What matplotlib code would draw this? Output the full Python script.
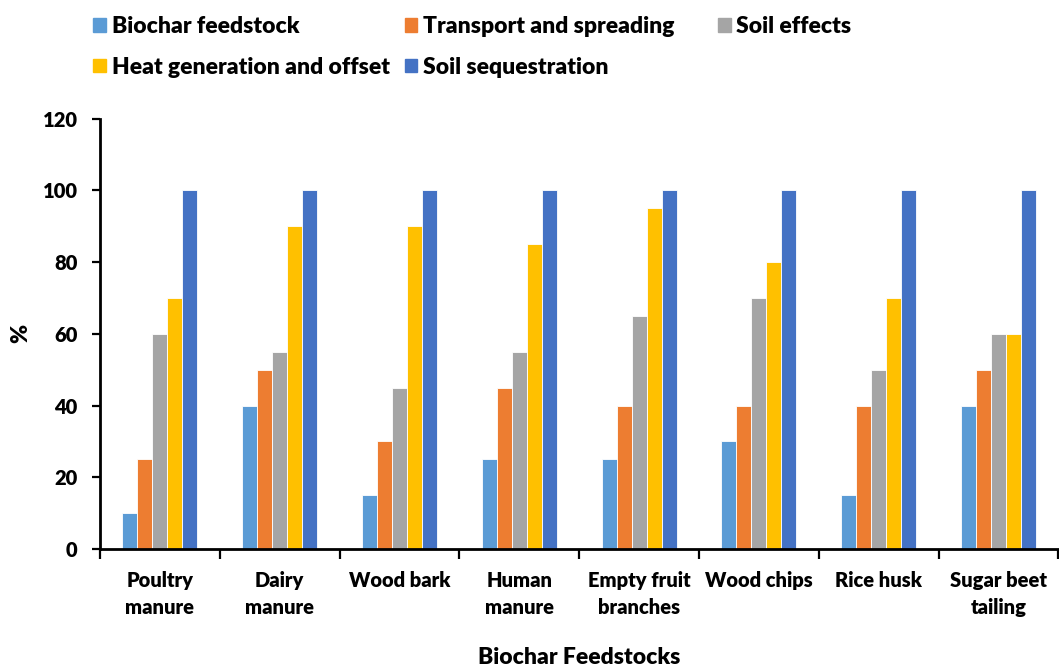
import matplotlib

matplotlib.use("Agg")

import matplotlib.pyplot as plt
import numpy as np
from matplotlib.patches import Patch

plt.rcParams["font.family"] = ["Lato", "DejaVu Sans"]
plt.rcParams["font.weight"] = "heavy"

categories = ["Poultry\nmanure", "Dairy\nmanure", "Wood bark", "Human\nmanure",
              "Empty fruit\nbranches", "Wood chips", "Rice husk", "Sugar beet\ntailing"]
series = ["Biochar feedstock", "Transport and spreading", "Soil effects",
          "Heat generation and offset", "Soil sequestration"]
biochar_feedstock = [10, 40, 15, 25, 25, 30, 15, 40]
transport_spreading = [25, 50, 30, 45, 40, 40, 40, 50]
soil_effects = [60, 55, 45, 55, 65, 70, 50, 60]
heat_generation = [70, 90, 90, 85, 95, 80, 70, 60]
soil_sequestration = [100, 100, 100, 100, 100, 100, 100, 100]
values = [biochar_feedstock, transport_spreading, soil_effects, heat_generation, soil_sequestration]
colors = ["#5B9BD5", "#ED7D31", "#A5A5A5", "#FFC000", "#4472C4"]

fig = plt.figure(figsize=(10.59, 6.67), dpi=100)
ax = fig.add_axes([0.0944, 0.177, 0.905, 0.645])

x = np.arange(len(categories))
w = 0.125
for i, (vals, c) in enumerate(zip(values, colors)):
    ax.bar(x + (i - 2) * w, vals, width=w, color=c, edgecolor="white", linewidth=0.6)

ax.set_xlim(-0.5, len(categories) - 0.5)
ax.set_ylim(0, 120)
ax.set_yticks(range(0, 121, 20))
ax.set_xticks(x)
ax.set_xticklabels(categories, fontsize=14.5, fontweight="heavy", linespacing=1.5)
ax.set_xticks(np.arange(-0.5, len(categories)), minor=True)
ax.tick_params(axis="x", which="major", length=0, pad=16)
ax.tick_params(axis="x", which="minor", length=7, width=1.6, direction="out")
ax.tick_params(axis="y", length=6, width=1.6, labelsize=14.5, pad=10)
for lbl in ax.get_yticklabels():
    lbl.set_fontweight("heavy")
for s in ["top", "right"]:
    ax.spines[s].set_visible(False)
for s in ["left", "bottom"]:
    ax.spines[s].set_linewidth(2)

ax.set_ylabel("%", fontsize=16.5, fontweight="heavy")
ax.yaxis.set_label_coords(-0.072, 0.5)
ax.set_xlabel("Biochar Feedstocks", fontsize=16.5, fontweight="heavy")
ax.xaxis.set_label_coords(0.5, -0.228)

# Excel-style legend grid: one small legend per column
handles = [Patch(color=c, label=s) for c, s in zip(colors, series)]
columns = [([0, 3], 0.073), ([1, 4], 0.367), ([2], 0.663)]
for idx, x0 in columns:
    fig.legend([handles[i] for i in idx], [series[i] for i in idx],
               loc="upper left", bbox_to_anchor=(x0, 1.0), frameon=False,
               prop={"weight": "heavy", "size": 16.5}, handlelength=0.55, handleheight=0.55,
               handletextpad=0.25, labelspacing=0.85, borderaxespad=0.3)

fig.savefig("out.png", dpi=100)
